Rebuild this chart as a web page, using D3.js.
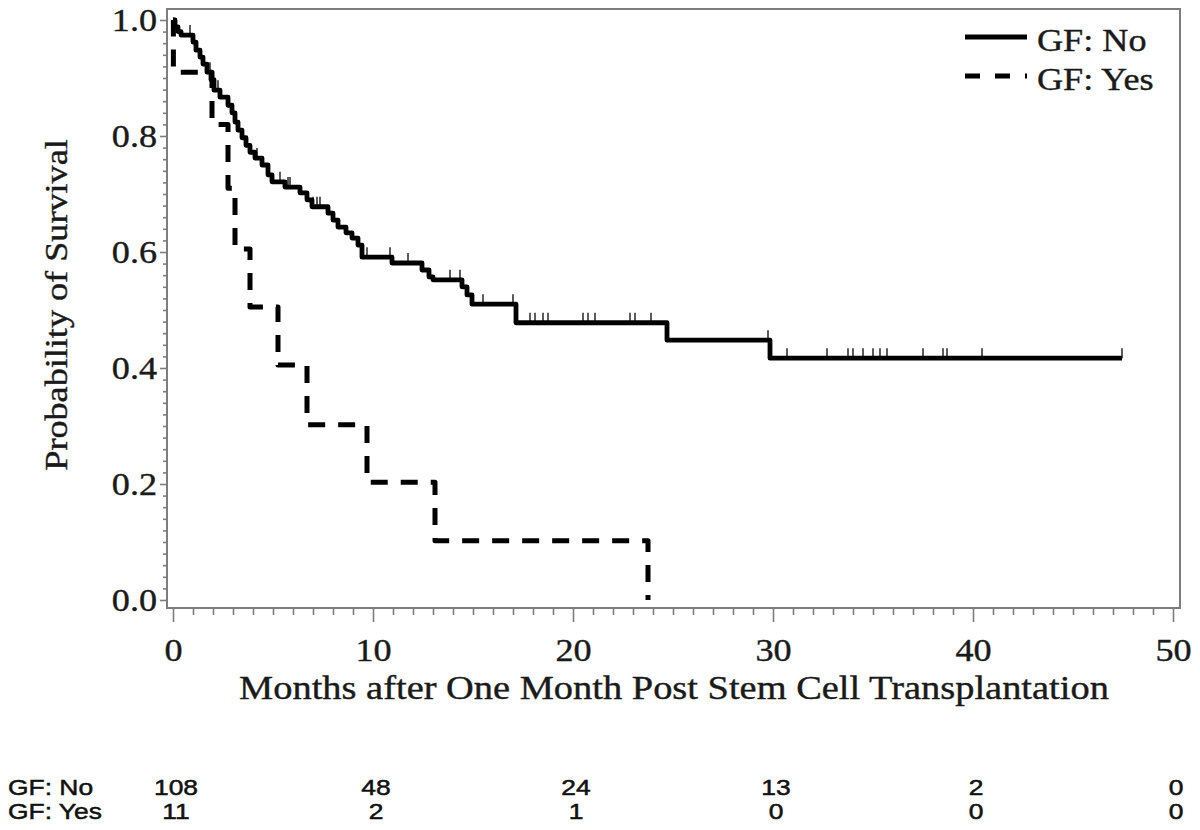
<!DOCTYPE html>
<html><head><meta charset="utf-8">
<script src="https://cdn.jsdelivr.net/npm/d3@7"></script>
<style>
html,body{margin:0;padding:0;background:#fff;}
svg{display:block;}
</style></head>
<body>
<svg id="chart" width="1200" height="830"></svg>
<script>
// ---- Data ----
const groups = ["GF: No", "GF: Yes"];
// GF: No — event times (months) and survival after each event
const noTimes = [0.1,0.25,0.4,1.0,1.15,1.35,1.5,1.7,1.9,2.05,2.35,2.75,2.95,3.1,3.25,3.45,3.65,3.85,4.1,4.45,4.75,4.95,5.6,6.35,6.7,6.95,7.75,8.0,8.25,8.65,8.95,9.25,9.45,10.95,12.45,12.8,13.0,14.45,14.7,14.95,17.15,24.7,29.85];
const noSurv  = [0.988,0.98,0.974,0.962,0.948,0.936,0.924,0.91,0.897,0.879,0.867,0.853,0.84,0.824,0.81,0.797,0.784,0.772,0.762,0.75,0.733,0.721,0.712,0.702,0.69,0.678,0.667,0.655,0.643,0.633,0.624,0.612,0.591,0.581,0.569,0.557,0.552,0.54,0.526,0.51,0.478,0.448,0.417];
const noCensor = [0.85,1.85,2.25,4.2,5.35,5.75,5.85,7.0,7.2,7.35,9.7,10.85,11.75,13.85,14.35,15.5,17.0,17.85,18.1,18.5,18.75,20.5,20.75,21.1,22.85,23.1,23.9,29.75,30.7,32.7,33.75,34.0,34.5,35.0,35.35,35.7,37.5,38.5,38.7,40.45,47.45];
const noEnd = 47.45;
// GF: Yes
const yesTimes = [0.02,1.95,2.75,3.1,3.85,5.25,6.7,9.7,13.1,23.75];
const yesSurv  = [0.91,0.82,0.71,0.605,0.505,0.405,0.302,0.203,0.102,0.0];
const yesCensor = [];
const yesEnd = 23.75;
// Axes
const xTicks = [0,10,20,30,40,50];
const yTicks = [0,0.2,0.4,0.6,0.8,1.0];
// Number at risk
const riskTimes = [0,10,20,30,40,50];
const riskNo  = [108,48,24,13,2,0];
const riskYes = [11,2,1,0,0,0];

// ---- Layout ----
const svg = d3.select("#chart");
const frame = {l:167, t:9, r:1180, b:608};
const x = d3.scaleLinear().domain([0,50]).range([173,1173]);
const y = d3.scaleLinear().domain([0,1]).range([600,20]);
const serif = "'Liberation Serif','Times New Roman',serif";
const sans = "'Liberation Sans',Arial,sans-serif";
const axisCol = "#7d7d7d";
const textCol = "#1a1a1a";
const STRETCH = 1.13;

// minor ticks
const xMinor = d3.range(0,51,1).filter(v=>v%10!==0);
const yMinor = d3.range(0,51,1).map(v=>v/50).filter((v,i)=>i%10!==0);

const gx = svg.append("g").attr("transform",`translate(0,${frame.b})`);
gx.call(d3.axisBottom(x).tickValues(xMinor).tickSize(7).tickFormat(""));
gx.call(g=>g.selectAll("path.domain").remove());
const gx2 = svg.append("g").attr("transform",`translate(0,${frame.b})`);
gx2.call(d3.axisBottom(x).tickValues(xTicks).tickSize(14).tickPadding(16).tickFormat(d3.format("d")));
gx2.select("path.domain").remove();

const gy = svg.append("g").attr("transform",`translate(${frame.l},0)`);
gy.call(d3.axisLeft(y).tickValues(yMinor).tickSize(4).tickFormat(""));
gy.select("path.domain").remove();
const gy2 = svg.append("g").attr("transform",`translate(${frame.l},0)`);
gy2.call(d3.axisLeft(y).tickValues(yTicks).tickSize(7).tickPadding(3).tickFormat(d3.format(".1f")));
gy2.select("path.domain").remove();

svg.selectAll(".tick line").attr("stroke",axisCol).attr("stroke-width",1.6);
svg.selectAll(".tick text").attr("font-family",serif).attr("font-size",32)
  .attr("fill",textCol).attr("stroke",textCol).attr("stroke-width",0.4);

// frame
svg.append("rect").attr("x",frame.l).attr("y",frame.t)
  .attr("width",frame.r-frame.l).attr("height",frame.b-frame.t)
  .attr("fill","none").attr("stroke",axisCol).attr("stroke-width",2);

// ---- Curves ----
function stepPoints(times, surv, end){
  const pts = [[0,1]];
  times.forEach((t,i)=>pts.push([t,surv[i]]));
  pts.push([end, surv[surv.length-1]]);
  return pts;
}
function survAt(times, surv, t){
  let s = 1;
  for(let i=0;i<times.length;i++){ if(times[i]<=t) s = surv[i]; }
  return s;
}
const line = d3.line().x(d=>x(d[0])).y(d=>y(d[1])).curve(d3.curveStepAfter);

const plot = svg.append("g");
function censor(times, surv, cens){
  plot.selectAll(null).data(cens).enter().append("line")
    .attr("x1",d=>x(d)).attr("x2",d=>x(d))
    .attr("y1",d=>y(survAt(times,surv,d))).attr("y2",d=>y(survAt(times,surv,d))-10)
    .attr("stroke","#333").attr("stroke-width",1.6);
}
censor(noTimes,noSurv,noCensor);
censor(yesTimes,yesSurv,yesCensor);

plot.append("path").datum(stepPoints(noTimes,noSurv,noEnd))
  .attr("d",line).attr("fill","none").attr("stroke","#000").attr("stroke-width",4.8)
  .attr("stroke-linejoin","round");
plot.append("path").datum(stepPoints(yesTimes,yesSurv,yesEnd))
  .attr("d",line).attr("fill","none").attr("stroke","#000").attr("stroke-width",5)
  .attr("stroke-dasharray","17,13").attr("stroke-linejoin","round");

// ---- Legend ----
const leg = svg.append("g");
const legRows = [{name:groups[0], dash:null, ly:37, ty:51},{name:groups[1], dash:"15,15", ly:76, ty:90}];
legRows.forEach(r=>{
  leg.append("line").attr("x1",965).attr("x2",1027).attr("y1",r.ly).attr("y2",r.ly)
    .attr("stroke","#000").attr("stroke-width",4.8).attr("stroke-dasharray",r.dash);
  leg.append("text").attr("x",1037).attr("y",r.ty).text(r.name)
    .attr("font-family",serif).attr("font-size",32)
    .attr("fill",textCol).attr("stroke",textCol).attr("stroke-width",0.4);
});

// ---- Axis titles ----
svg.append("text").attr("x",674).attr("y",699).attr("text-anchor","middle")
  .attr("font-family",serif).attr("font-size",34)
  .attr("fill",textCol).attr("stroke",textCol).attr("stroke-width",0.4)
  .text("Months after One Month Post Stem Cell Transplantation");
svg.append("text").attr("transform","translate(67,305) rotate(-90)").attr("text-anchor","middle")
  .attr("font-family",serif).attr("font-size",32)
  .attr("fill",textCol).attr("stroke",textCol).attr("stroke-width",0.4)
  .text("Probability of Survival");

// ---- Number at risk ----
const risk = svg.append("g").attr("font-family",sans).attr("font-size",22)
  .attr("fill","#111").attr("stroke","#111").attr("stroke-width",0.5);
[[groups[0],riskNo,795],[groups[1],riskYes,819]].forEach(([name,vals,yy])=>{
  risk.append("text").attr("x",8).attr("y",yy).text(name);
  risk.selectAll(null).data(vals).enter().append("text")
    .attr("x",(d,i)=>x(riskTimes[i])+3).attr("y",yy).attr("text-anchor","middle").text(d=>d);
});

// horizontal stretch of glyphs like the reference
svg.selectAll("text").each(function(){
  const len = this.getComputedTextLength();
  const k = this.getAttribute("font-family")===null ? 1.2 : STRETCH;
  if(len>0){ d3.select(this).attr("textLength",len*k).attr("lengthAdjust","spacingAndGlyphs"); }
});
</script>
</body></html>
